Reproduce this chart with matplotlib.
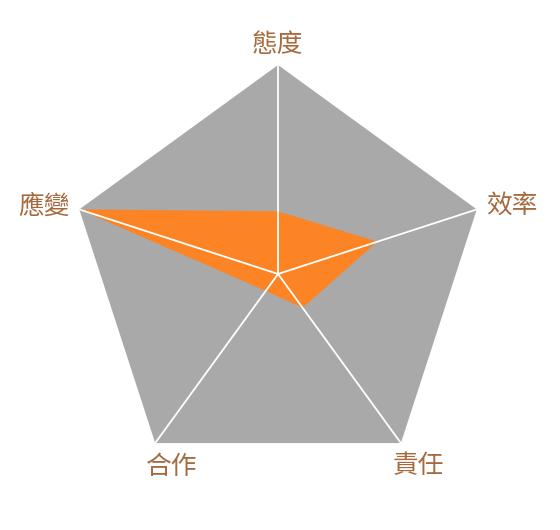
import numpy as np
import matplotlib
matplotlib.use("Agg")
import matplotlib.pyplot as plt

plt.rcParams['font.family'] = ['Noto Sans CJK TC', 'DejaVu Sans']

categories = ['態度', '效率', '責任', '合作', '應變']
values = [0.30, 0.50, 0.20, 0.10, 1.00]
max_values = [1, 1, 1, 1, 1]

label_offsets = [(-1, 20), (35, 4), (18, -23), (17, -24), (-35, 3)]

n = len(categories)
angles = np.linspace(0, 2 * np.pi, n, endpoint=False)
ang_c = np.concatenate([angles, angles[:1]])

fig = plt.figure(figsize=(5.6, 5.3), dpi=100)
ax = fig.add_axes([0.1233, 0.0887, 0.7464, 0.7887], projection='polar')
ax.set_theta_offset(np.pi / 2)
ax.set_theta_direction(-1)
ax.set_ylim(0, 1)
ax.grid(False)
ax.spines['polar'].set_visible(False)
ax.set_xticks([])
ax.set_yticks([])
ax.patch.set_alpha(0)

ax.fill(ang_c, np.concatenate([max_values, max_values[:1]]), color='#a9a9a9', lw=0, zorder=1)
ax.fill(ang_c, np.concatenate([values, values[:1]]), color='#fd8424', lw=0, zorder=2)
for a, m in zip(angles, max_values):
    ax.plot([a, a], [0, m], color='white', lw=1.3, zorder=3, solid_capstyle='butt')

for a, lab, off in zip(angles, categories, label_offsets):
    ax.annotate(lab, xy=(a, 1), xytext=off, textcoords='offset pixels',
                ha='center', va='center', fontsize=18.5, color='#a56a3e',
                annotation_clip=False)

fig.savefig('out.png', dpi=100)
